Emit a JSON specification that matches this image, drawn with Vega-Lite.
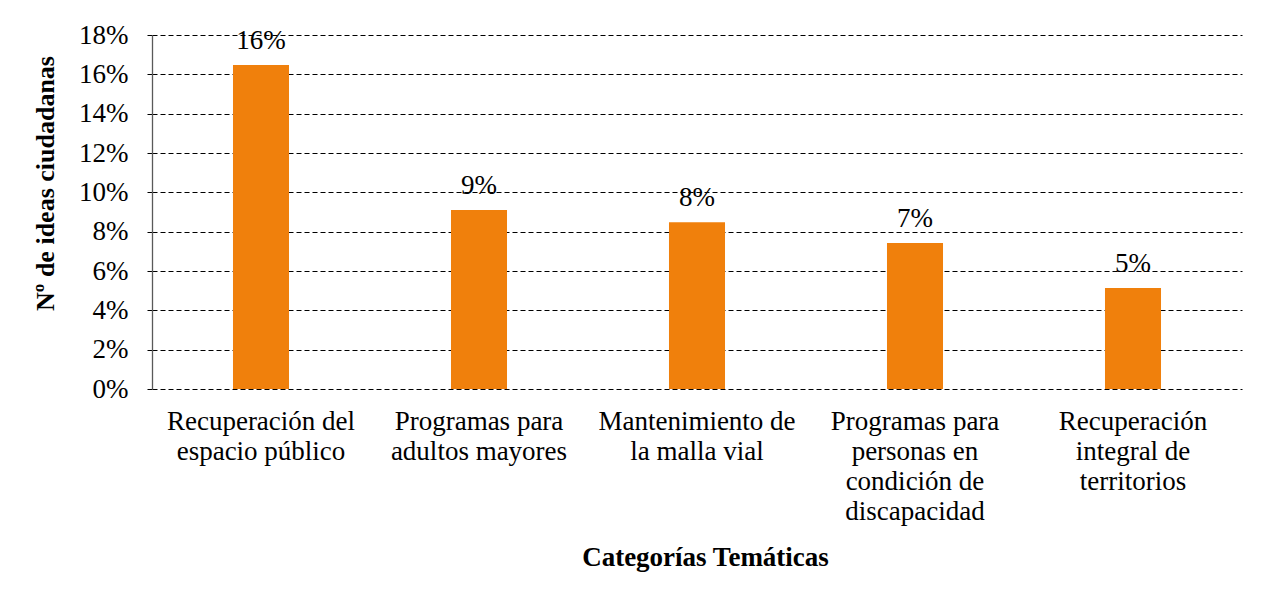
{
  "$schema": "https://vega.github.io/schema/vega-lite/v6.json",
  "autosize": "none",
  "width": 1090,
  "height": 354,
  "padding": {"left": 152, "top": 35, "right": 26, "bottom": 205},
  "background": "white",
  "config": {
    "view": {"stroke": null},
    "font": "Liberation Serif"
  },
  "data": {
    "values": [
      {"categoria": "Recuperación del|espacio público", "valor": 0.1647},
      {"categoria": "Programas para|adultos mayores", "valor": 0.0910},
      {"categoria": "Mantenimiento de|la malla vial", "valor": 0.0848},
      {"categoria": "Programas para|personas en|condición de|discapacidad", "valor": 0.0742},
      {"categoria": "Recuperación|integral de|territorios", "valor": 0.0514}
    ]
  },
  "encoding": {
    "x": {
      "field": "categoria",
      "type": "nominal",
      "sort": null,
      "scale": {"paddingInner": 0.743, "paddingOuter": 0.3715},
      "axis": {
        "title": "Categorías Temáticas",
        "titleFont": "Liberation Serif",
        "titleFontSize": 27,
        "titleFontWeight": "bold",
        "titleColor": "black",
        "titleX": 553,
        "titleY": 168,
        "titleBaseline": "middle",
        "labelAngle": 0,
        "labelExpr": "split(datum.label, '|')",
        "labelFont": "Liberation Serif",
        "labelFontSize": 27,
        "labelColor": "black",
        "labelLineHeight": 30,
        "labelPadding": 32,
        "labelBaseline": "middle",
        "labelLimit": 300,
        "domain": false,
        "ticks": false
      }
    },
    "y": {
      "field": "valor",
      "type": "quantitative",
      "scale": {"domain": [0, 0.18], "nice": false},
      "axis": {
        "title": "Nº de ideas ciudadanas",
        "titleFont": "Liberation Serif",
        "titleFontSize": 26,
        "titleFontWeight": "bold",
        "titleColor": "black",
        "titleX": -107,
        "titleY": 148,
        "titleAngle": -90,
        "titleBaseline": "middle",
        "titleAlign": "center",
        "format": ".0%",
        "values": [0, 0.02, 0.04, 0.06, 0.08, 0.1, 0.12, 0.14, 0.16, 0.18],
        "labelOverlap": false,
        "labelFont": "Liberation Serif",
        "labelFontSize": 27,
        "labelColor": "black",
        "labelPadding": 17,
        "grid": true,
        "gridColor": "black",
        "gridDash": [5, 3],
        "gridWidth": 1,
        "gridOpacity": 1,
        "tickColor": "black",
        "tickSize": 7,
        "tickDash": [5, 3],
        "domainColor": "#595959",
        "domainWidth": 1.3
      }
    }
  },
  "layer": [
    {
      "mark": {"type": "bar", "color": "#F0800C"}
    },
    {
      "mark": {"type": "text", "baseline": "bottom", "dy": -10, "fontSize": 27, "font": "Liberation Serif", "color": "black"},
      "encoding": {
        "text": {"field": "valor", "type": "quantitative", "format": ".0%"}
      }
    }
  ]
}
